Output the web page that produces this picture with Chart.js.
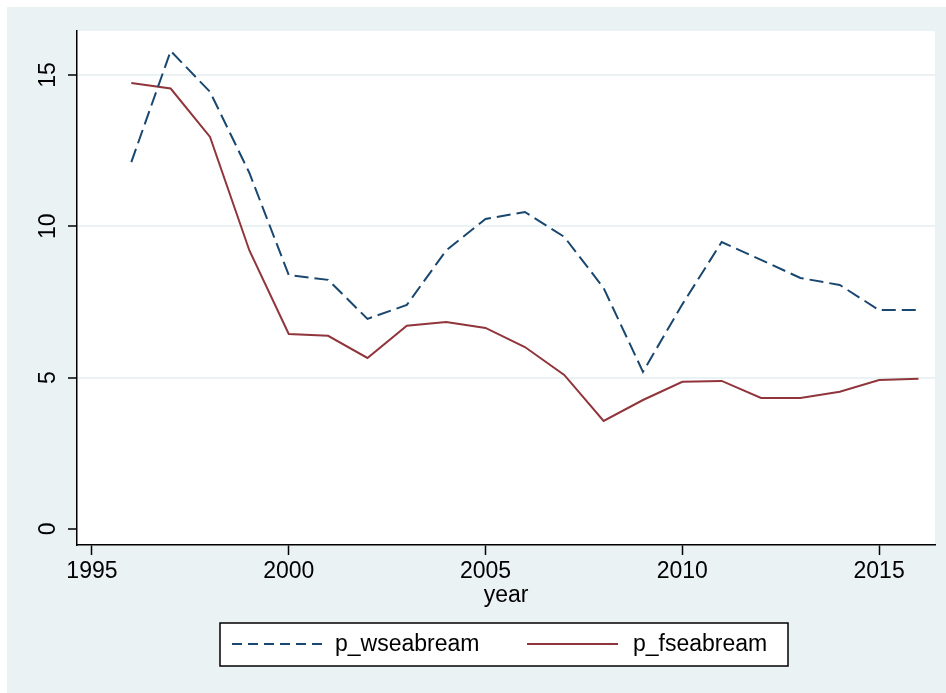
<!DOCTYPE html>
<html>
<head>
<meta charset="utf-8">
<title>p_wseabream / p_fseabream</title>
<script src="https://cdn.jsdelivr.net/npm/chart.js@4.4.1/dist/chart.umd.min.js"></script>
<style>
    body { margin: 0; background: #ffffff; }
    #priceChart { display: block; }
</style>
</head>
<body>
<canvas id="priceChart" width="946" height="693"></canvas>
<script>
// Data
let years = [1996, 1997, 1998, 1999, 2000, 2001, 2002, 2003, 2004, 2005, 2006,
             2007, 2008, 2009, 2010, 2011, 2012, 2013, 2014, 2015, 2016];
let pWseabream = [12.12, 15.79, 14.44, 11.76, 8.39, 8.23, 6.94, 7.40, 9.20, 10.24, 10.47,
                  9.65, 7.96, 5.19, 7.42, 9.48, 8.89, 8.29, 8.06, 7.23, 7.23];
let pFseabream = [14.73, 14.55, 12.95, 9.20, 6.44, 6.38, 5.65, 6.71, 6.84, 6.64, 6.01,
                  5.09, 3.57, 4.26, 4.86, 4.89, 4.33, 4.33, 4.53, 4.92, 4.96];
let seriesNames = ['p_wseabream', 'p_fseabream'];
let xTicks = [1995, 2000, 2005, 2010, 2015];
let yTicks = [0, 5, 10, 15];

const NAVY = '#1a476f';
const MAROON = '#90353b';
const BG = '#eaf2f3';
const FONT = '"Liberation Sans", Arial, sans-serif';

function toPoints(values) {
    return years.map(function (yr, i) { return { x: yr, y: values[i] }; });
}

// Stata-like background, white plot region, rotated y labels and boxed legend
const stataLook = {
    id: 'stataLook',
    beforeDraw(chart) {
        const ctx = chart.ctx;
        const a = chart.chartArea;
        ctx.save();
        ctx.fillStyle = '#ffffff';
        ctx.fillRect(0, 0, chart.width, chart.height);
        ctx.fillStyle = BG;
        ctx.fillRect(7, 7, chart.width - 7, chart.height - 7);
        ctx.fillStyle = '#ffffff';
        ctx.fillRect(a.left, a.top, a.right - a.left, a.bottom - a.top);
        ctx.restore();
    },
    afterDraw(chart) {
        const ctx = chart.ctx;
        const yScale = chart.scales.y;
        ctx.save();

        // y tick labels, turned on their side
        ctx.fillStyle = '#000000';
        ctx.font = '23px ' + FONT;
        ctx.textAlign = 'center';
        ctx.textBaseline = 'middle';
        yTicks.forEach(function (v) {
            const py = yScale.getPixelForValue(v);
            ctx.save();
            ctx.translate(49, py);
            ctx.rotate(-Math.PI / 2);
            ctx.fillText(String(v), 0, 0);
            ctx.restore();
        });

        // legend box
        ctx.fillStyle = '#ffffff';
        ctx.fillRect(220, 623, 568, 43);
        ctx.strokeStyle = '#000000';
        ctx.lineWidth = 1.5;
        ctx.strokeRect(220, 623, 568, 43);

        const ds = chart.data.datasets;
        ctx.lineWidth = 2;
        ctx.strokeStyle = ds[0].borderColor;
        ctx.setLineDash([10, 6]);  // legend key uses shorter dashes
        ctx.beginPath();
        ctx.moveTo(232, 644);
        ctx.lineTo(324, 644);
        ctx.stroke();

        ctx.strokeStyle = ds[1].borderColor;
        ctx.setLineDash([]);
        ctx.beginPath();
        ctx.moveTo(527, 644);
        ctx.lineTo(618, 644);
        ctx.stroke();

        ctx.fillStyle = '#000000';
        ctx.textAlign = 'left';
        ctx.textBaseline = 'middle';
        ctx.fillText(ds[0].label, 335, 645);
        ctx.fillText(ds[1].label, 633, 645);
        ctx.restore();
    }
};

const ctx = document.getElementById('priceChart').getContext('2d');
let priceChart = new Chart(ctx, {
    type: 'line',
    data: {
        datasets: [{
            label: seriesNames[0],
            data: toPoints(pWseabream),
            borderColor: NAVY,
            borderWidth: 2,
            borderDash: [14, 6],
            pointRadius: 0,
            tension: 0,
            fill: false
        }, {
            label: seriesNames[1],
            data: toPoints(pFseabream),
            borderColor: MAROON,
            borderWidth: 2,
            pointRadius: 0,
            tension: 0,
            fill: false
        }]
    },
    options: {
        responsive: false,
        animation: false,
        layout: {
            padding: { left: 0, top: 31, right: 11, bottom: 0 }
        },
        plugins: {
            legend: { display: false },
            tooltip: { enabled: false }
        },
        scales: {
            x: {
                type: 'linear',
                min: 1994.62,
                max: 2016.42,
                afterBuildTicks: function (axis) {
                    axis.ticks = xTicks.map(function (v) { return { value: v }; });
                },
                afterFit: function (axis) {
                    axis.height = 148;
                },
                border: { display: true, color: '#000000', width: 1.5 },
                grid: {
                    drawOnChartArea: false,
                    drawTicks: true,
                    tickLength: 10,
                    tickColor: '#000000',
                    tickWidth: 1.5
                },
                ticks: {
                    color: '#000000',
                    font: { family: FONT, size: 23 },
                    padding: 3,
                    maxRotation: 0,
                    autoSkip: false,
                    callback: function (v) { return String(v); }
                },
                title: {
                    display: true,
                    text: 'year',
                    color: '#000000',
                    font: { family: FONT, size: 23 },
                    padding: { top: 0, bottom: 84 }
                }
            },
            y: {
                type: 'linear',
                min: -0.53,
                max: 16.45,
                afterBuildTicks: function (axis) {
                    axis.ticks = yTicks.map(function (v) { return { value: v }; });
                },
                afterFit: function (axis) {
                    axis.width = 77;
                },
                border: { display: true, color: '#000000', width: 1.5 },
                grid: {
                    color: function (c) {
                        return c.tick && c.tick.value === 0 ? 'rgba(0,0,0,0)' : BG;
                    },
                    lineWidth: 2,
                    drawTicks: true,
                    tickLength: 9,
                    tickColor: '#000000',
                    tickWidth: 1.5
                },
                ticks: { display: false }
            }
        }
    },
    plugins: [stataLook]
});
</script>
</body>
</html>
